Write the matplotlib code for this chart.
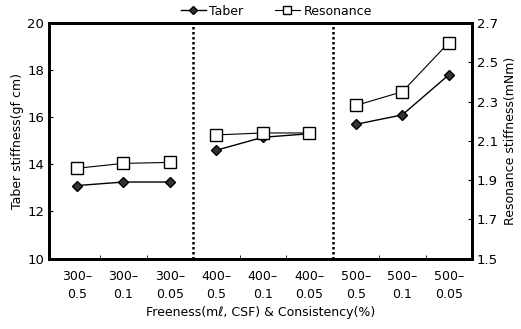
import numpy as np
import matplotlib
matplotlib.use("Agg")
import matplotlib.pyplot as plt

# categories: freeness - consistency
labels = ["300\u2013\n0.5", "300\u2013\n0.1", "300\u2013\n0.05",
          "400\u2013\n0.5", "400\u2013\n0.1", "400\u2013\n0.05",
          "500\u2013\n0.5", "500\u2013\n0.1", "500\u2013\n0.05"]
# Taber stiffness (gf cm), left axis
taber = [13.1, 13.25, 13.25, 14.6, 15.15, 15.3, 15.7, 16.1, 17.8]
# Resonance stiffness (mNm), right axis
resonance = [1.96, 1.985, 1.99, 2.13, 2.14, 2.14, 2.28, 2.35, 2.60]

plt.rcParams['font.family'] = ['DejaVu Sans']
x = np.arange(len(labels))

fig = plt.figure(figsize=(5.21, 3.29), dpi=100)
ax = fig.add_axes([0.094, 0.214, 0.812, 0.716])
ax2 = ax.twinx()

# each freeness level is its own line segment
for g in range(3):
    s = slice(3 * g, 3 * g + 3)
    l1, = ax.plot(x[s], taber[s], color='black', lw=1.0, marker='D', markersize=5,
                  markerfacecolor='#333333', markeredgecolor='black', label='Taber', zorder=3)
    l2, = ax2.plot(x[s], resonance[s], color='black', lw=0.8, marker='s', markersize=8,
                   markerfacecolor='white', markeredgecolor='black', label='Resonance', zorder=3)

ax.set_xlim(-0.6, 8.5)
ax.set_ylim(10, 20)
ax2.set_ylim(1.5, 2.7)
ax.set_yticks([10, 12, 14, 16, 18, 20])
ax2.set_yticks([1.5, 1.7, 1.9, 2.1, 2.3, 2.5, 2.7])
ax.set_xticks(x)
ax.set_xticklabels(labels, fontsize=9, linespacing=1.5)
ax.set_xticks([0.5, 1.5, 3.5, 4.5, 6.5, 7.5], minor=True)
ax.tick_params(axis='x', which='major', length=0, pad=8)
ax.tick_params(axis='x', which='minor', direction='in', length=3)
ax.tick_params(axis='y', direction='in', length=3, labelsize=9.5)
ax2.tick_params(axis='y', direction='in', length=3, labelsize=9.5)

for xv in [2.5, 5.5]:
    ax.axvline(xv, color='black', lw=1.8, ls=(0, (1, 1)))

for sp in ax.spines.values():
    sp.set_linewidth(2)
for sp in ax2.spines.values():
    sp.set_linewidth(2)

ax.set_ylabel("Taber stiffness(gf cm)", fontsize=9, labelpad=2)
ax2.set_ylabel("Resonance stiffness(mNm)", fontsize=9, labelpad=4)
ax.set_xlabel("Freeness(m\u2113, CSF) & Consistency(%)", fontsize=9, labelpad=4)

fig.legend(handles=[l1, l2], loc='upper center', bbox_to_anchor=(0.53, 1.02), ncol=2,
           frameon=False, fontsize=9, handlelength=2, columnspacing=2.5,
           handletextpad=0.3, markerscale=0.8)

fig.savefig("out.png", dpi=100)
